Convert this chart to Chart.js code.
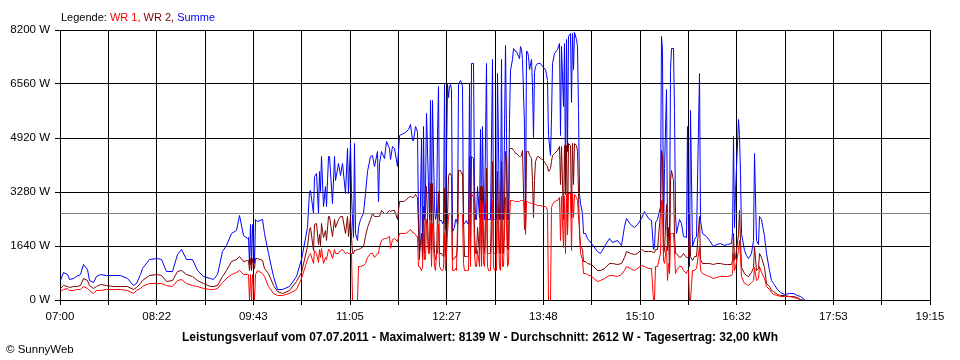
<!DOCTYPE html>
<html><head><meta charset="utf-8">
<script src="https://cdn.jsdelivr.net/npm/chart.js@4.4.1/dist/chart.umd.min.js"></script>
<style>html,body{margin:0;padding:0;background:#fff;}#wrap{position:relative;width:960px;height:360px;}</style>
</head><body><div id="wrap"><canvas id="c" width="960" height="360"></canvas></div>
<script>
// time of day in minutes since midnight
const minutes = [
420,423,426,428,431,434,437,440,443,445,448,451,454,459,465,471,477,482,485,488,
490,496,502,506,510,515,519,523,527,532,536,541,547,550,553,557,561,565,569,572,
575,578,579,580,581,582,583,584,585,587,591,593,596,600,604,608,614,620,624,629,
631,632,634,635,637,638,639,640,641,643,644,645,647,648,650,652,653,655,657,659,
661,663,664,665,666,667,668,669,670,671,672,674,676,678,680,682,684,686,688,689,
690,692,694,696,698,699,701,703,705,707,710,712,714,716,718,
719,720,721,722,723,724,725,726,727,728,729,730,731,732,733,734,735,736,737,738,
739,740,741,742,743,744,745,746,747,748,749,750,751,752,753,754,755,756,757,758,
759,760,761,762,763,764,765,766,767,768,769,770,771,772,773,774,775,776,777,778,
779,780,781,782,783,784,785,786,787,788,789,790,791,792,793,794,795,796,797,798,
799,800,801,802,803,804,805,806,807,808,809,810,811,812,813,814,815,816,817,818,
819,820,821,822,823,824,
826,828,830,831,832,833,834,835,836,838,840,842,843,844,845,846,847,848,849,850,
851,852,853,854,855,856,857,858,859,860,861,862,864,866,869,
874,877,880,884,887,891,894,897,899,902,905,908,911,914,917,920,921,922,923,925,
927,928,929,930,931,932,933,934,935,936,937,938,939,940,941,943,945,947,949,950,
951,952,953,954,956,958,960,961,963,966,969,972,975,978,981,984,987,988,989,990,
991,993,994,995,996,998,1000,1002,1004,1006,1007,1008,1010,1011,1013,1015,1017,1019,1021,1023,
1026,1029,1032,1036,1040,1043,1046,1049,1050];

// Summe (W)
const summe = [
600,830,780,628,658,708,760,1063,932,607,537,708,760,750,740,740,638,455,506,760,
962,1215,1266,1215,860,860,1367,1519,1215,1215,911,708,638,628,760,1468,1670,2025,2100,2581,
1974,1873,1900,1063,2300,1063,2300,1100,2430,2380,2450,2025,1417,708,304,304,405,708,1215,2200,
3290,3340,2640,3745,3847,2632,3897,3290,4352,2834,3442,2834,4352,4352,2936,4352,3644,4150,3796,4150,
3239,4606,3239,4758,3239,2430,1900,4758,2025,1822,2200,2430,2632,3239,3900,4352,4400,4049,4505,3000,
4150,4505,4300,4808,4600,4252,4656,4600,4049,5011,5062,5100,5163,5315,4859,
4859,5265,5200,5100,2430,1215,4900,1500,5265,2430,3400,5670,3442,2430,6074,2430,6074,2834,2430,2600,
5000,6479,2400,2400,2330,2330,6530,2126,6530,6150,6479,6530,6400,2075,2200,2430,2430,2300,6530,6681,
6600,6479,2330,2330,2400,2330,2300,6580,2632,7188,7188,3442,2430,2430,3442,2500,5163,2430,5265,3000,
2430,7188,2430,2430,2430,2430,7289,2430,2430,2430,2430,6885,2430,2430,7289,2430,2430,7744,5062,2430,
2430,5467,6985,7300,7643,7600,7542,7542,7400,7340,7693,7600,7300,5265,2430,7542,7542,7400,7000,7300,
6479,4950,6900,7100,7188,7188,
7188,7087,7000,6850,6681,5000,4400,5500,7188,7500,7600,7795,5000,7700,5870,7800,3500,7900,4500,8000,
8100,6000,8100,7000,8139,7900,7700,5770,3239,2936,2632,2025,2025,1870,1721,
1468,1417,1620,1870,1750,1800,1650,2227,2480,2300,2200,2300,2480,2683,2480,2400,1519,1600,2350,2430,
2834,7997,7590,1920,4000,6380,1920,2100,1820,6985,7643,7643,5770,2600,2025,2430,2330,1920,1900,5265,
2000,1012,5770,1620,1850,1920,6885,2400,2025,1920,1820,1620,1700,1720,1650,1700,1720,2025,4960,2200,
3300,5467,5000,3800,2025,1500,1350,1250,1417,1800,4454,1800,1700,2530,2430,1920,1417,900,600,500,
320,220,182,200,200,150,100,20,0];

// WR 2 (W)
const wr2 = [
354,430,420,385,405,420,435,638,580,430,354,405,476,430,425,425,400,304,380,486,
600,739,760,730,557,600,860,911,760,708,600,506,405,405,455,708,911,1164,1215,1336,
1164,1190,1200,900,1250,900,1266,950,1266,1266,1200,962,800,430,253,202,300,550,850,1620,
2126,2200,1500,2300,2328,1700,2000,1650,2328,1900,2100,1822,2530,2530,1924,2430,2200,2430,2530,2530,
2025,2530,1924,2530,1924,1417,1417,1500,1500,1519,1519,1550,1620,1924,2200,2430,2632,2530,2530,2530,
2530,2733,2632,2632,2733,2700,2733,2733,2430,2986,3000,3037,3100,3138,3100,
3100,3190,3150,3100,2227,1417,2025,1215,2834,1400,2834,3442,1519,1519,3543,1500,3543,1417,1215,1300,
2632,3300,1417,1417,1350,1316,3400,1316,2430,3745,3847,3847,3745,1215,1250,1316,1316,1620,3948,3948,
3847,3847,2430,1316,1316,1316,1316,4352,1600,4352,4300,2000,1400,1417,2200,1417,3442,1417,3442,1700,
1417,4000,1417,1417,1417,1417,4200,1417,1417,1417,1417,3900,1417,1417,4200,1417,1417,4500,4250,1519,
1519,4600,4606,4606,4550,4500,4450,4450,4400,4352,4352,4400,4550,2126,2126,4500,4500,4500,4400,4300,
3644,2500,3644,4200,4352,4352,
4300,4252,4150,4100,4049,3900,4000,4200,4400,4450,4550,4656,3500,4656,2430,4700,3200,4700,2000,4758,
4700,2500,4758,3500,4758,4700,4500,3239,2000,1620,1519,1164,1164,1100,1063,
911,911,960,1114,1100,1080,1114,1300,1468,1400,1367,1400,1519,1468,1468,1468,1450,1450,1519,1519,
2632,4555,4400,1400,1500,2900,1500,2200,810,3644,3948,3644,2000,1417,1417,1300,1316,1417,1300,1300,
1316,2632,1316,1200,1316,1316,2530,1215,1114,1114,1100,1080,1100,1100,1063,1063,1080,1200,2025,1200,
1300,2000,2733,1800,1000,810,750,708,850,1000,1620,900,950,1417,1300,1000,506,400,300,253,
180,150,125,110,100,70,30,0,0];

// WR 1 (W)
const wr1 = [
253,330,340,283,290,304,320,405,360,283,202,283,300,324,324,324,300,202,280,354,
420,486,486,486,455,405,580,628,506,455,400,354,304,304,354,526,638,760,830,891,
780,760,760,0,760,0,760,0,760,900,810,700,405,202,122,130,200,304,650,1215,
1367,1400,1100,1500,1417,1150,1519,1300,1550,1100,1300,1215,1519,1519,1250,1519,1417,1417,1500,1519,
1417,1450,1417,1417,1417,0,0,0,0,0,1012,1012,1050,1114,1300,1417,1417,1300,1417,1417,
1620,1822,1870,1870,1924,1570,1850,1870,1780,2025,2025,2025,2080,2126,2050,
2050,2000,1924,1924,1012,1012,911,1000,2025,1215,1215,2430,1417,1417,2328,1012,2328,1012,911,1417,
1417,2300,1012,911,911,950,2025,911,2025,2530,2632,2632,2600,911,911,950,911,2227,2632,2632,
2632,2600,1100,911,911,911,911,3239,1012,3239,3100,1400,1012,1012,1500,1012,3037,1012,2900,1100,
1012,3000,1012,911,911,911,3037,1012,911,911,911,2900,1012,911,3000,1012,1012,3100,2400,1012,
1100,2400,3037,3037,3037,3000,2986,2986,3000,3000,3037,3037,3037,2986,2000,2986,2986,2950,2950,2930,
2930,2900,2900,2900,2880,2880,
2860,2850,2834,2800,2680,0,0,2800,2900,3000,3037,3100,1800,3138,1600,3138,1400,3200,2000,3239,
3239,1500,3239,2500,3200,3100,3037,2500,2227,1417,1215,810,800,770,708,
577,600,650,730,730,720,760,911,1012,950,911,950,1060,1012,960,960,0,0,1012,1012,
1417,3037,3037,1200,1100,1620,600,1100,800,2025,2025,2025,1500,810,911,1012,1012,900,810,900,
911,0,0,911,900,960,1620,911,800,750,700,658,680,700,700,700,730,800,1417,900,
1000,1500,1822,1300,700,506,470,455,530,600,1000,600,650,1012,850,650,400,310,220,182,
140,120,110,100,90,50,0,0,0];

const yTicks = [0, 1640, 3280, 4920, 6560, 8200];
const xTickLabels = ['07:00','08:22','09:43','11:05','12:27','13:48','15:10','16:32','17:53','19:15'];
const xStart = 420, xEnd = 1155;
const average = 2612;
const titleText = 'Leistungsverlauf vom 07.07.2011 - Maximalwert: 8139 W - Durchschnitt: 2612 W - Tagesertrag: 32,00 kWh';
const copyrightText = '\u00A9 SunnyWeb';

if (minutes.length !== summe.length || minutes.length !== wr1.length || minutes.length !== wr2.length) {
  throw new Error('length mismatch ' + minutes.length + ' ' + summe.length + ' ' + wr2.length + ' ' + wr1.length);
}

const C_WR1 = '#ff0000', C_WR2 = '#800000', C_SUM = '#0000ff', C_AVG = '#808080';
const FONT = '"Liberation Sans", Arial, sans-serif';
const legendParts = [['Legende: ', '#000000'], ['WR 1, ', C_WR1], ['WR 2, ', C_WR2], ['Summe', C_SUM]];

const pts = arr => minutes.map((m, i) => ({x: m, y: arr[i]}));
const lineStyle = {pointRadius: 0, borderWidth: 1, tension: 0, fill: false};

// snap the library-computed point positions to pixel centres for crisp 1px lines
const snapPlugin = {
  id: 'snap',
  afterDatasetsUpdate(chart) {
    chart.data.datasets.forEach((ds, i) => {
      chart.getDatasetMeta(i).data.forEach(el => {
        el.x = Math.round(el.x - 0.5) + 0.5;
        el.y = Math.round(el.y - 0.5) + 0.5;
      });
    });
  }
};

const textPlugin = {
  id: 'texts',
  afterDraw(chart) {
    const ctx = chart.ctx;
    ctx.save();
    ctx.font = '11px ' + FONT;
    ctx.textBaseline = 'alphabetic';
    ctx.textAlign = 'left';
    let x = 61;
    legendParts.forEach(([t, c]) => { ctx.fillStyle = c; ctx.fillText(t, x, 21); x += ctx.measureText(t).width; });
    ctx.fillStyle = '#000';
    ctx.font = 'bold 12px ' + FONT;
    ctx.textAlign = 'center';
    ctx.fillText(titleText, 480, 341);
    ctx.font = '11.5px ' + FONT;
    ctx.textAlign = 'left';
    ctx.fillText(copyrightText, 6, 353);
    ctx.restore();
  }
};

new Chart(document.getElementById('c'), {
  type: 'line',
  data: {
    datasets: [
      Object.assign({label: 'Durchschnitt', data: [{x: xStart, y: average}, {x: xEnd, y: average}], borderColor: C_AVG, order: 0}, lineStyle),
      Object.assign({label: 'WR 1', data: pts(wr1), borderColor: C_WR1, order: 1}, lineStyle),
      Object.assign({label: 'WR 2', data: pts(wr2), borderColor: C_WR2, order: 2}, lineStyle),
      Object.assign({label: 'Summe', data: pts(summe), borderColor: C_SUM, order: 3}, lineStyle)
    ]
  },
  options: {
    responsive: false,
    animation: false,
    devicePixelRatio: 1,
    layout: {padding: {top: 30, right: 30, left: 0, bottom: 0}},
    plugins: {legend: {display: false}, tooltip: {enabled: false}, title: {display: false}},
    scales: {
      x: {
        type: 'linear', min: xStart, max: xEnd,
        afterBuildTicks: s => { s.ticks = Array.from({length: (xTickLabels.length - 1) * 2 + 1}, (_, i) => ({value: xStart + i * (xEnd - xStart) / ((xTickLabels.length - 1) * 2)})); },
        afterFit: s => { s.height = 60; },
        ticks: {autoSkip: false, maxRotation: 0, minRotation: 0, padding: 5, color: '#000', font: {family: FONT, size: 11.5},
          callback: (v, i) => (i % 2 === 0 ? xTickLabels[i / 2] : '')},
        grid: {color: '#000', lineWidth: 1, tickLength: 5, drawTicks: true},
        border: {color: '#000', width: 1}
      },
      y: {
        type: 'linear', min: 0, max: 8200,
        afterBuildTicks: s => { s.ticks = yTicks.map(v => ({value: v})); },
        afterFit: s => { s.width = 60; },
        ticks: {padding: 5, color: '#000', font: {family: FONT, size: 11.5}, callback: v => v + ' W'},
        grid: {color: '#000', lineWidth: 1, tickLength: 5, drawTicks: true},
        border: {color: '#000', width: 1}
      }
    }
  },
  plugins: [snapPlugin, textPlugin]
});
</script>
</body></html>
